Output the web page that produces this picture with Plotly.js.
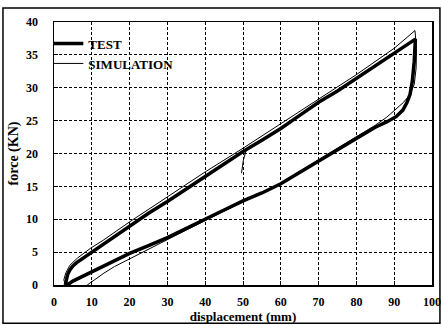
<!DOCTYPE html>
<html>
<head>
<meta charset="utf-8">
<script src="https://cdn.plot.ly/plotly-3.0.1.min.js"></script>
<style>html,body{margin:0;padding:0;background:#fff}#chart{width:442px;height:325px}</style>
</head>
<body>
<div id="chart"></div>
<script>
// TEST - loading branch
const testLoadX = [3, 3.3, 3.6, 4.2, 5.0, 6, 7, 8.5, 10, 12, 16, 20, 25, 30, 35, 40, 45, 50, 55, 60, 65, 70, 75, 80, 85, 90, 93, 95.6];
const testLoadY = [0, 0.8, 1.6, 2.3, 2.9, 3.4, 3.8, 4.4, 5.0, 5.8, 7.4, 9.0, 10.9, 12.7, 14.6, 16.5, 18.4, 20.3, 22.0, 23.8, 25.8, 27.8, 29.5, 31.4, 33.3, 35.2, 36.3, 37.4];
// TEST - unloading branch
const testUnloadX = [95.6, 95.3, 94.8, 94.2, 93.4, 92.3, 90.5, 88, 85, 80, 75, 70, 65, 62, 60, 55, 50, 45, 40, 35, 30, 25, 20, 15, 10, 7, 5, 3.5];
const testUnloadY = [37.4, 34, 31, 29, 27.8, 26.6, 25.6, 24.8, 24.0, 22.3, 20.6, 18.8, 17.1, 16.1, 15.4, 14.0, 12.8, 11.4, 10.0, 8.6, 7.2, 6.0, 4.8, 3.4, 2.0, 1.2, 0.6, 0];
// SIMULATION - loading branch
const simLoadX = [3.6, 2.8, 2.6, 3.1, 4.2, 6.2, 9.7, 13, 20, 30, 40, 50, 60, 70, 80, 90, 95.5];
const simLoadY = [0, 0.4, 0.8, 1.8, 3.0, 4.1, 5.6, 6.8, 9.6, 13.4, 17.2, 20.8, 24.5, 28.3, 32.0, 36.0, 38.7];
// SIMULATION - unloading branch
const simUnloadX = [95.5, 95.9, 95.8, 95.3, 94.2, 92.5, 90.5, 88, 85, 80, 70, 60, 50, 40, 30, 19.3, 16, 13.2, 10.5, 8.8];
const simUnloadY = [38.7, 36, 33, 30.5, 29, 27.8, 26.8, 25.5, 24.3, 22.5, 19.0, 15.5, 12.7, 9.8, 6.9, 3.8, 2.8, 1.8, 0.7, 0];
// SIMULATION - small drop at 50 mm
const simStepX = [51, 50.1, 49.6];
const simStepY = [20.8, 19.0, 17.0];

const xTicks = [0, 10, 20, 30, 40, 50, 60, 70, 80, 90, 100];
const yTicks = [0, 5, 10, 15, 20, 25, 30, 35, 40];

const serif = "Liberation Serif, Times New Roman, serif";

const traces = [
  {x: testLoadX.concat(testUnloadX), y: testLoadY.concat(testUnloadY), mode: 'lines', name: 'TEST',
   line: {color: '#000', width: 3.5}},
  {x: simLoadX.concat(simUnloadX), y: simLoadY.concat(simUnloadY), mode: 'lines', name: 'SIMULATION',
   line: {color: '#000', width: 1}},
  {x: simStepX, y: simStepY, mode: 'lines', showlegend: false, line: {color: '#000', width: 1}}
];

const axisCommon = {
  showline: true, linecolor: '#000', linewidth: 1.5, mirror: true,
  showgrid: true, gridcolor: '#000', gridwidth: 1, griddash: '3px,2px',
  zeroline: false, ticks: 'inside', ticklen: 4, tickcolor: '#000',
  tickfont: {family: serif, size: 12, color: '#000', weight: 'bold'}
};

const layout = {
  width: 442, height: 325,
  margin: {l: 54, r: 10, t: 22, b: 40},
  paper_bgcolor: '#fff', plot_bgcolor: '#fff',
  showlegend: true,
  legend: {x: -0.015, y: 0.975, xanchor: 'left', yanchor: 'top', bgcolor: 'rgba(0,0,0,0)',
           font: {family: serif, size: 13, color: '#000', weight: 'bold'}, itemwidth: 30, tracegroupgap: 0},
  xaxis: Object.assign({}, axisCommon, {
    range: [0, 100], tickvals: xTicks, ticktext: xTicks.map(String), ticklabelstandoff: 5,
    title: {text: 'displacement (mm)', font: {family: serif, size: 13, color: '#000', weight: 'bold'}, standoff: 2}
  }),
  yaxis: Object.assign({}, axisCommon, {
    range: [0, 40], tickvals: yTicks, ticktext: yTicks.map(String), ticklabelstandoff: 12,
    title: {text: 'force (KN)', font: {family: serif, size: 14, color: '#000', weight: 'bold'}, standoff: 4}
  }),
  shapes: [
    {type: 'rect', xref: 'paper', yref: 'paper', x0: -0.135, x1: 1.021, y0: -0.145, y1: 1.053,
     line: {color: '#000', width: 1.5}, fillcolor: 'rgba(0,0,0,0)', layer: 'below'}
  ]
};

Plotly.newPlot('chart', traces, layout, {staticPlot: true, displayModeBar: false});
</script>
</body>
</html>
